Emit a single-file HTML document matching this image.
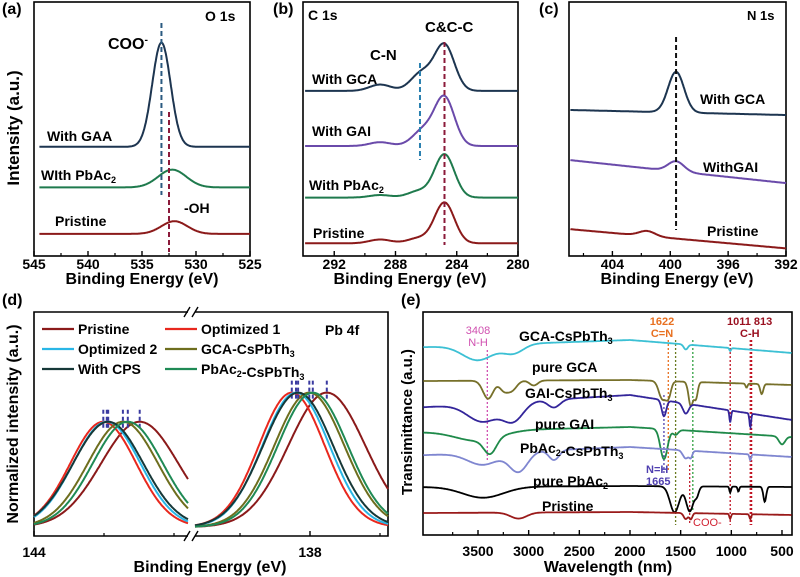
<!DOCTYPE html>
<html><head><meta charset="utf-8"><style>
html,body{margin:0;padding:0;background:#fff;}
svg{display:block;font-family:"Liberation Sans",Arial,sans-serif;font-weight:bold;}
</style></head><body>
<svg id="fig" width="800" height="577" viewBox="0 0 800 577" xmlns="http://www.w3.org/2000/svg">
<g id="pa"></g>
<g id="pb"></g>
<g id="pc"></g>
<g id="pd"></g>
<g id="pe"></g>
</svg>
<script>
// ---- Panel (a) O 1s ----
const aSeries = ['With GAA','With PbAc2','Pristine'];
const aBase = [43, 27, 8.7];
const aPeakE = [533.2, 532.2, 532.0];
const aPeakAmp = [41, 7, 5];
const aPeakW = [0.85, 1.3, 1.2];
const aColors = ['#1d3550','#1f7a4d','#8b1a1a'];
const aTicks = [545,540,535,530,525];
// ---- Panel (b) C 1s ----
const bSeries = ['With GCA','With GAI','With PbAc2','Pristine'];
const bBase = [65, 43.3, 23, 5];
const bPeakE = [284.8, 284.8, 284.8, 284.8];
const bPeakAmp = [18, 19, 17, 16];
const bShE = [286.3, 286.2, 286.5, 286.5];
const bShAmp = [7, 6, 2.5, 2];
const bHumpAmp = [2.5, 1.5, 1, 1.5];
const bColors = ['#1d3550','#6a4aaa','#1f7a4d','#8b1a1a'];
const bTicks = [292,288,284,280];
// ---- Panel (c) N 1s ----
const cSeries = ['With GCA','WithGAI','Pristine'];
const cBaseL = [57.5, 37.8, 10.6];
const cBaseR = [55.5, 28.7, 3];
const cPeakE = [399.6, 399.6, 401.6];
const cPeakAmp = [16, 4, 2];
const cColors = ['#1d3550','#6a4aaa','#8b1a1a'];
const cTicks = [404,400,396,392];
// ---- Panel (d) Pb 4f ----
const dSeries = ['Pristine','Optimized 1','Optimized 2','GCA-CsPbTh3','With CPS','PbAc2-CsPbTh3'];
const dLeftE = [142.49, 143.01, 142.96, 142.73, 142.94, 142.66];
const dRightE = [137.76, 138.26, 138.2, 138.01, 138.17, 137.96];
const dLeftAmp = [0.47, 0.47, 0.47, 0.47, 0.47, 0.47];
const dRightAmp = [0.6, 0.6, 0.6, 0.6, 0.6, 0.6];
const dSigma = [0.55, 0.47, 0.48, 0.5, 0.5, 0.5];
const dColors = ['#8b1a1a','#e8281e','#29b6e6','#6e6e1e','#163838','#1f8a55'];
const dTicks = ['144','138'];
// ---- Panel (e) FTIR ----
const eSeries = ['GCA-CsPbTh3','pure GCA','GAI-CsPbTh3','pure GAI','PbAc2-CsPbTh3','pure PbAc2','Pristine'];
const eBaseL = [188, 154, 128, 103, 80, 48, 22];
const eBaseM = [195, 155, 140, 108, 88, 49, 23];
const eBaseR = [182, 150, 115, 98, 78, 48, 20];
const eDips = [
 [[3500,15,150],[3150,9,100],[1450,5,20],[1011,3,8]],
 [[3400,18,50],[3250,8,40],[3170,10,50],[2950,5,40],[1680,18,35],[1620,14,25],[1400,24,22],[1350,16,18],[850,4,10],[700,10,15]],
 [[3450,18,150],[3150,18,100],[2750,8,60],[1665,16,22],[1450,10,28],[1011,12,8],[813,14,8]],
 [[3500,10,220],[3380,15,60],[1665,30,35],[1550,5,25],[500,8,30]],
 [[3450,12,150],[3100,20,90],[2750,10,50],[1450,8,28],[1400,6,15],[813,6,8]],
 [[3450,11,200],[1560,26,45],[1410,25,35],[1340,8,20],[1011,6,8],[930,5,8],[670,15,14]],
 [[3100,6,80],[1450,6,20],[1400,6,15],[1011,5,8],[813,5,8]]
];
const eColors = ['#3cc0d4','#77702a','#33259a','#1f8a4a','#7f86d0','#000000','#9a1a1a'];
const eTicks = [3500,3000,2500,2000,1500,1000,500];

const NS='http://www.w3.org/2000/svg';
function mk(parent, tag, attrs, text){
  const el=document.createElementNS(NS,tag);
  for(const k in attrs) el.setAttribute(k, attrs[k]);
  if(text!==undefined) el.textContent=text;
  parent.appendChild(el); return el;
}
function g(x,c,w){return Math.exp(-0.5*((x-c)/w)*((x-c)/w));}
function pathFrom(x0,x1,n,xf,yf,fn){
  let d='';
  for(let i=0;i<=n;i++){const e=x0+(x1-x0)*i/n; d+=(i?'L':'M')+xf(e).toFixed(1)+','+yf(fn(e)).toFixed(1);}
  return d;
}
function subText(parent, x, y, parts, size, fill, anchor){
  const t=mk(parent,'text',{x:x,y:y,'font-size':size,fill:fill||'#000','text-anchor':anchor||'start'});
  parts.forEach(p=>{
    const ts=document.createElementNS(NS,'tspan');
    if(p.sub){ts.setAttribute('font-size',size*0.65);ts.setAttribute('dy',3);}
    else if(p.sup){ts.setAttribute('font-size',size*0.65);ts.setAttribute('dy',-6);}
    else if(p.back){ts.setAttribute('dy',p.back);}
    ts.textContent=p.t; t.appendChild(ts);
  });
  return t;
}
function labelParts(s){
  const out=[]; const re=/(PbAc|PbTh)(\d)/g; let last=0,m;
  while((m=re.exec(s))){out.push({t:s.slice(last,m.index)+m[1]});out.push({sub:1,t:m[2]});out.push({back:-3,t:''});last=re.lastIndex;}
  out.push({t:s.slice(last)}); return out.filter(p=>p.t!==''||p.back);
}
function box(p,x,y,w,h){mk(p,'rect',{x:x,y:y,width:w,height:h,fill:'none',stroke:'#000','stroke-width':1.6});}
function xticks(p,vals,xf,yb,len,labels,off){
  vals.forEach((v,i)=>{
    const t=mk(p,'line',{x1:xf(v),x2:xf(v),y1:yb,y2:yb-len,stroke:'#000','stroke-width':1.4});
    
    
    if(labels){const l=mk(p,'text',{x:xf(v),y:yb+off,'font-size':14,'text-anchor':'middle'},labels[i]);
      
      }
  });
}
function minor(p,vals,xf,yb){vals.forEach(v=>mk(p,'line',{x1:xf(v),x2:xf(v),y1:yb,y2:yb-3,stroke:'#000','stroke-width':1.2}));}
function dash(p,x,y1,y2,col,da){mk(p,'line',{x1:x,x2:x,y1:y1,y2:y2,stroke:col,'stroke-width':2,'stroke-dasharray':da||'5,3'});}

// ===== (a) =====
(function(){
  const p=document.getElementById('pa');
  const xs=e=>34+(545-e)*(216/20), ys=v=>256-v*2.54;
  box(p,34,2,216,254);
  aSeries.forEach((s,i)=>{
    const path=mk(p,'path',{d:pathFrom(544.5,525,400,xs,ys,e=>aBase[i]+aPeakAmp[i]*g(e,aPeakE[i],aPeakW[i])),fill:'none',stroke:aColors[i],'stroke-width':2});
    
    
  });
  dash(p,xs(533.2),23,195,'#2a5a80');
  dash(p,xs(532.5),112,252,'#8b1a3a');
  xticks(p,aTicks,xs,256,5,aTicks.map(String),13);
  minor(p,[542.5,537.5,532.5,527.5],xs,256);
  const t=mk(p,'text',{x:142,y:284,'font-size':16,'text-anchor':'middle'},'Binding Energy (eV)');
  
  const yt=mk(p,'text',{x:0,y:0,'font-size':17,'text-anchor':'middle',transform:'translate(19,128) rotate(-90)'},'Intensity (a.u.)');
  
  mk(p,'text',{x:2,y:14,'font-size':16},'(a)');
  mk(p,'text',{x:205,y:21,'font-size':14},'O 1s');
  subText(p,108,49,[{t:'COO'},{sup:1,t:'-'}],16);
  mk(p,'text',{x:47,y:141,'font-size':14},'With GAA');
  subText(p,41,180,[{t:'WIth PbAc'},{sub:1,t:'2'}],14);
  mk(p,'text',{x:55,y:226,'font-size':14},'Pristine');
  mk(p,'text',{x:184,y:213,'font-size':14},'-OH');
})();

// ===== (b) =====
(function(){
  const p=document.getElementById('pb');
  const xs=e=>303.6+(294-e)*(214.4/14), ys=v=>256-v*2.54;
  box(p,303,2,215,254);
  bSeries.forEach((s,i)=>{
    const path=mk(p,'path',{d:pathFrom(293.9,280,400,xs,ys,e=>bBase[i]+bPeakAmp[i]*g(e,bPeakE[i],0.65)+bShAmp[i]*g(e,bShE[i],0.7)+bHumpAmp[i]*g(e,289,0.7)),fill:'none',stroke:bColors[i],'stroke-width':2});
    
    
  });
  dash(p,xs(284.8),42,245,'#8b1a3a');
  dash(p,xs(286.4),63,160,'#2a80b0');
  xticks(p,bTicks,xs,256,5,bTicks.map(String),13);
  minor(p,[290,286,282],xs,256);
  const t=mk(p,'text',{x:410,y:284,'font-size':16,'text-anchor':'middle'},'Binding Energy (eV)');
  
  mk(p,'text',{x:273,y:14,'font-size':16},'(b)');
  mk(p,'text',{x:308,y:20,'font-size':14},'C 1s');
  mk(p,'text',{x:425,y:32,'font-size':15},'C&C-C');
  mk(p,'text',{x:370,y:60,'font-size':15},'C-N');
  bSeries.forEach((s,i)=>{
    const l=subText(p,[312,312,309,313][i],[84,136,190,238][i],labelParts(s),14);
    
  });
})();

// ===== (c) =====
(function(){
  const p=document.getElementById('pc');
  const xs=e=>569+(407-e)*(217/15), ys=v=>256-v*2.54;
  box(p,569,2,217,254);
  cSeries.forEach((s,i)=>{
    const path=mk(p,'path',{d:pathFrom(406.9,392,400,xs,ys,e=>cBaseL[i]+(cBaseR[i]-cBaseL[i])*(407-e)/15+cPeakAmp[i]*g(e,cPeakE[i],0.55)),fill:'none',stroke:cColors[i],'stroke-width':2});
    
    
  });
  dash(p,xs(399.6),37,230,'#111');
  xticks(p,cTicks,xs,256,5,cTicks.map(String),13);
  minor(p,[406,402,398,394],xs,256);
  const t=mk(p,'text',{x:677,y:284,'font-size':16,'text-anchor':'middle'},'Binding Energy (eV)');
  
  mk(p,'text',{x:539,y:14,'font-size':16},'(c)');
  mk(p,'text',{x:747,y:20,'font-size':13},'N 1s');
  mk(p,'text',{x:700,y:104,'font-size':14},'With GCA');
  mk(p,'text',{x:703,y:172,'font-size':14},'WithGAI');
  mk(p,'text',{x:707,y:236,'font-size':14},'Pristine');
})();

// ===== (d) =====
(function(){
  const p=document.getElementById('pd');
  const K=70, xl=e=>34+(144-e)*K, xr=e=>310+(138-e)*K, ys=v=>536-v*224;
  mk(p,'path',{d:'M188,312 L34,312 L34,536 L188,536 M195,536 L388,536 L388,312 L195,312',fill:'none',stroke:'#000','stroke-width':1.6});
  [[312],[536]].forEach(([y])=>{mk(p,'line',{x1:184,y1:y+5,x2:190,y2:y-5,stroke:'#000','stroke-width':1.4});mk(p,'line',{x1:192,y1:y+5,x2:198,y2:y-5,stroke:'#000','stroke-width':1.4});});
  const lE0=144, lE1=144-154/K, rE0=138+115/K, rE1=138-78/K;
  dSeries.forEach((s,i)=>{
    const f1=e=>0.04+dLeftAmp[i]*g(e,dLeftE[i],dSigma[i]);
    const f2=e=>0.04+dRightAmp[i]*g(e,dRightE[i],dSigma[i]);
    const pl=mk(p,'path',{d:pathFrom(lE0,lE1,200,xl,ys,f1),fill:'none',stroke:dColors[i],'stroke-width':2});
    
    const pr=mk(p,'path',{d:pathFrom(rE0,rE1,200,xr,ys,f2),fill:'none',stroke:dColors[i],'stroke-width':2});
    
    mk(p,'line',{x1:xl(dLeftE[i]),x2:xl(dLeftE[i]),y1:ys(0.04+dLeftAmp[i])-12,y2:ys(0.04+dLeftAmp[i])+8,stroke:'#3a3aa0','stroke-width':2,'stroke-dasharray':'4,3'});
    mk(p,'line',{x1:xr(dRightE[i]),x2:xr(dRightE[i]),y1:ys(0.04+dRightAmp[i])-12,y2:ys(0.04+dRightAmp[i])+8,stroke:'#3a3aa0','stroke-width':2,'stroke-dasharray':'4,3'});
  });
  xticks(p,[144],xl,536,5,[dTicks[0]],21);
  xticks(p,[138],xr,536,5,[dTicks[1]],21);
  minor(p,[143,142],xl,536); minor(p,[139,137],xr,536);
  const t=mk(p,'text',{x:210,y:572,'font-size':16,'text-anchor':'middle'},'Binding Energy (eV)');
  
  const yt=mk(p,'text',{x:0,y:0,'font-size':16,'text-anchor':'middle',transform:'translate(18,424) rotate(-90)'},'Normalized intensity (a.u.)');
  
  mk(p,'text',{x:2,y:305,'font-size':16},'(d)');
  mk(p,'text',{x:325,y:335,'font-size':14},'Pb 4f');
  [0,1,2,3,4,5].forEach((i,k)=>{
    const col=k%2, row=Math.floor(k/2);
    const lx=col?165:42, ly=329+row*20;
    const leg=mk(p,'g',{});
    
    
    mk(leg,'line',{x1:lx,x2:lx+32,y1:ly,y2:ly,stroke:dColors[i],'stroke-width':2.2});
    subText(leg,lx+36,ly+5,labelParts(dSeries[i]),14);
  });
})();

// ===== (e) =====
(function(){
  const p=document.getElementById('pe');
  const xs=w=>478+(3500-w)*0.10133, ys=v=>535-v;
  box(p,423,312,369,223);
  function base(i,w){return w>2000? eBaseM[i]+(eBaseL[i]-eBaseM[i])*(w-2000)/2000 : eBaseR[i]+(eBaseM[i]-eBaseR[i])*(w-400)/1600;}
  [[3408,350,462,'#d050b0'],[1622,340,470,'#e87020'],[1550,340,525,'#6a7a20'],[1665,395,475,'#5040b0'],[1380,340,510,'#30a040'],[1411,465,525,'#c02030'],[1011,340,525,'#c01020'],[813,340,525,'#c01020'],[800,340,525,'#c01020']].forEach(a=>{
    mk(p,'line',{x1:xs(a[0]),x2:xs(a[0]),y1:a[1],y2:a[2],stroke:a[3],'stroke-width':1.3,'stroke-dasharray':'2,2'});
  });
  eSeries.forEach((s,i)=>{
    const path=mk(p,'path',{d:pathFrom(4040,405,600,xs,ys,w=>{let v=base(i,w);eDips[i].forEach(d=>{v-=d[1]*g(w,d[0],d[2]);});return v;}),fill:'none',stroke:eColors[i],'stroke-width':1.8});
    
    
  });
  xticks(p,eTicks,xs,535,5,eTicks.map(String),21);
  minor(p,[3750,3250,2750,2250,1750,1250,750],xs,535);
  const t=mk(p,'text',{x:608,y:572,'font-size':16,'text-anchor':'middle'},'Wavelength (nm)');
  
  const yt=mk(p,'text',{x:0,y:0,'font-size':15,'text-anchor':'middle',transform:'translate(412,422) rotate(-90)'},'Transimittance (a.u.)');
  
  mk(p,'text',{x:401,y:305,'font-size':16},'(e)');
  const lp=[[519,341],[532,372],[525,398],[535,429],[520,453],[533,486],[542,511]];
  eSeries.forEach((s,i)=>{
    const l=subText(p,lp[i][0],lp[i][1],labelParts(s),14);
    
  });
  mk(p,'text',{x:478,y:334,'font-size':11,fill:'#d050b0','font-weight':'normal','text-anchor':'middle'},'3408');
  mk(p,'text',{x:478,y:346,'font-size':11,fill:'#d050b0','font-weight':'normal','text-anchor':'middle'},'N-H');
  mk(p,'text',{x:662,y:325,'font-size':11,fill:'#e87020','text-anchor':'middle'},'1622');
  mk(p,'text',{x:662,y:337,'font-size':11,fill:'#e87020','text-anchor':'middle'},'C=N');
  mk(p,'text',{x:727,y:325,'font-size':11,fill:'#9a1020'},'1011 813');
  mk(p,'text',{x:740,y:337,'font-size':11,fill:'#9a1020'},'C-H');
  mk(p,'text',{x:646,y:473,'font-size':11,fill:'#5040b0'},'N=H');
  mk(p,'text',{x:646,y:485,'font-size':11,fill:'#5040b0'},'1665');
  mk(p,'text',{x:693,y:526,'font-size':11,fill:'#d02030','font-weight':'normal'},'COO-');
})();
</script>
</body></html>
